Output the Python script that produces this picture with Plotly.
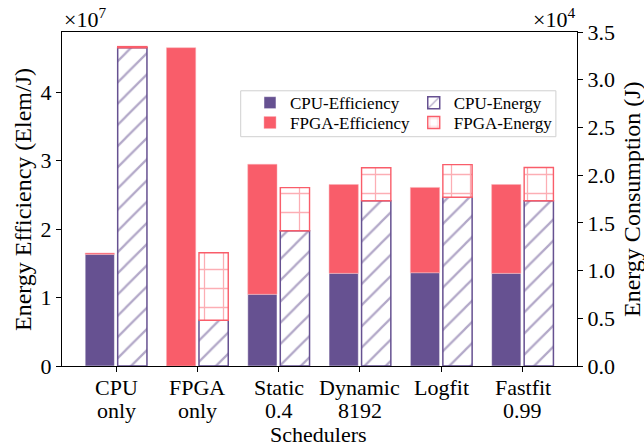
import plotly.graph_objects as go

tick_line1 = ["CPU", "FPGA", "Static", "Dynamic", "Logfit", "Fastfit"]
tick_line2 = ["only", "only", "0.4", "8192", "", "0.99"]
cpu_eff = [1.63e7, 0.0, 1.047e7, 1.353e7, 1.362e7, 1.353e7]
fpga_eff = [0.02e7, 4.647e7, 1.898e7, 1.297e7, 1.245e7, 1.297e7]
cpu_energy = [3.335e4, 0.479e4, 1.418e4, 1.732e4, 1.768e4, 1.732e4]
fpga_energy = [0.012e4, 0.708e4, 0.451e4, 0.346e4, 0.342e4, 0.348e4]

PURPLE = "#665191"
RED = "#f95d6a"
FONT = "Liberation Serif"
FS = 22
TFS = 24

x = list(range(len(tick_line1)))
W = 0.36
fig = go.Figure()

fig.add_trace(go.Bar(x=x, y=cpu_eff, width=W, offset=-0.2 - W / 2, name="CPU-Efficiency",
                     marker=dict(color=PURPLE, line=dict(color="white", width=0.5)), yaxis="y",
                     legend="legend"))
fig.add_trace(go.Bar(x=x, y=fpga_eff, base=cpu_eff, width=W, offset=-0.2 - W / 2, name="FPGA-Efficiency",
                     marker=dict(color=RED, line=dict(color="#fbb0b6", width=0.5)), yaxis="y",
                     legend="legend3"))
fig.add_trace(go.Bar(x=x, y=cpu_energy, width=W, offset=0.2 - W / 2, name="CPU-Energy",
                     marker=dict(color="white", line=dict(color=PURPLE, width=1.5),
                                 pattern=dict(shape="/", fgcolor=PURPLE, bgcolor="white", size=15, solidity=0.15)),
                     yaxis="y2", legend="legend2"))
fig.add_trace(go.Bar(x=x, y=fpga_energy, base=cpu_energy, width=W, offset=0.2 - W / 2, name="FPGA-Energy",
                     marker=dict(color="white", line=dict(color=RED, width=1.4),
                                 pattern=dict(shape="+", fgcolor=RED, bgcolor="white", size=19, solidity=0.13)),
                     yaxis="y2", legend="legend4"))

leg_common = dict(orientation="v", yanchor="top", xanchor="left", bgcolor="rgba(0,0,0,0)",
                  borderwidth=0, font=dict(family=FONT, size=17), traceorder="normal",
                  tracegroupgap=0)

annotations = [
    dict(text="×10<sup>7</sup>", xref="paper", yref="paper", x=0.0, y=1.0, xanchor="left",
         yanchor="bottom", showarrow=False, font=dict(size=FS), yshift=-2),
    dict(text="×10<sup>4</sup>", xref="paper", yref="paper", x=1.0, y=1.0, xanchor="right",
         yanchor="bottom", showarrow=False, font=dict(size=FS), yshift=-2),
    dict(text="Energy Efficiency (Elem/J)", xref="paper", yref="paper", x=-0.0757, y=0.497,
         xanchor="center", yanchor="middle", textangle=-90, showarrow=False, font=dict(size=TFS)),
    dict(text="Energy Consumption (J)", xref="paper", yref="paper", x=1.0, y=0.5,
         xanchor="center", yanchor="middle", textangle=-90, showarrow=False, font=dict(size=TFS),
         xshift=55),
    dict(text="Schedulers", xref="paper", yref="paper", x=0.499, y=0.0,
         xanchor="center", yanchor="middle", showarrow=False, font=dict(size=FS), yshift=-68),
]
for xi, t1, t2 in zip(x, tick_line1, tick_line2):
    annotations.append(dict(text=t1, xref="x", yref="paper", x=xi, y=0.0, xanchor="center",
                            yanchor="middle", showarrow=False, font=dict(size=FS), yshift=-21))
    if t2:
        annotations.append(dict(text=t2, xref="x", yref="paper", x=xi, y=0.0, xanchor="center",
                                yanchor="middle", showarrow=False, font=dict(size=FS), yshift=-44))

fig.update_layout(
    width=644, height=446,
    margin=dict(l=62, r=67, t=32, b=80, autoexpand=False),
    barmode="overlay",
    plot_bgcolor="white", paper_bgcolor="white",
    font=dict(family=FONT, size=FS, color="black"),
    showlegend=True,
    legend=dict(x=0.365, y=0.841, **leg_common),
    legend3=dict(x=0.365, y=0.7815, **leg_common),
    legend2=dict(x=0.683, y=0.841, **leg_common),
    legend4=dict(x=0.683, y=0.7815, **leg_common),
    shapes=[dict(type="rect", xref="paper", yref="paper", x0=0.347, x1=0.959, y0=0.6865, y1=0.824,
                 line=dict(color="#d0d0d0", width=1), fillcolor="rgba(255,255,255,0.85)", layer="above")],
    xaxis=dict(range=[-0.665, 5.67], tickmode="array", tickvals=x, ticktext=tick_line1,
               showticklabels=False,
               showline=True, linecolor="black", linewidth=1.2, mirror=True, automargin=False,
               ticks="outside", ticklen=5, tickcolor="black", showgrid=False, zeroline=False),
    yaxis=dict(range=[0, 4.876e7], tickmode="array", tickvals=[0, 1e7, 2e7, 3e7, 4e7],
               ticktext=["0", "1", "2", "3", "4"], automargin=False,
               showline=True, linecolor="black", linewidth=1.2,
               ticks="outside", ticklen=5, tickcolor="black", showgrid=False, zeroline=False,
               tickfont=dict(size=FS)),
    yaxis2=dict(range=[0, 3.5e4], overlaying="y", side="right", tickmode="array", automargin=False,
                tickvals=[0, 0.5e4, 1e4, 1.5e4, 2e4, 2.5e4, 3e4, 3.5e4],
                ticktext=["0.0", "0.5", "1.0", "1.5", "2.0", "2.5", "3.0", "3.5"],
                showline=True, linecolor="black", linewidth=1.2,
                ticks="outside", ticklen=5, tickcolor="black", showgrid=False, zeroline=False,
                tickfont=dict(size=FS)),
    annotations=annotations,
)

fig.write_html("out.html", config={"displayModeBar": False},
               post_script="document.body.style.margin='0';document.body.style.padding='0';")
